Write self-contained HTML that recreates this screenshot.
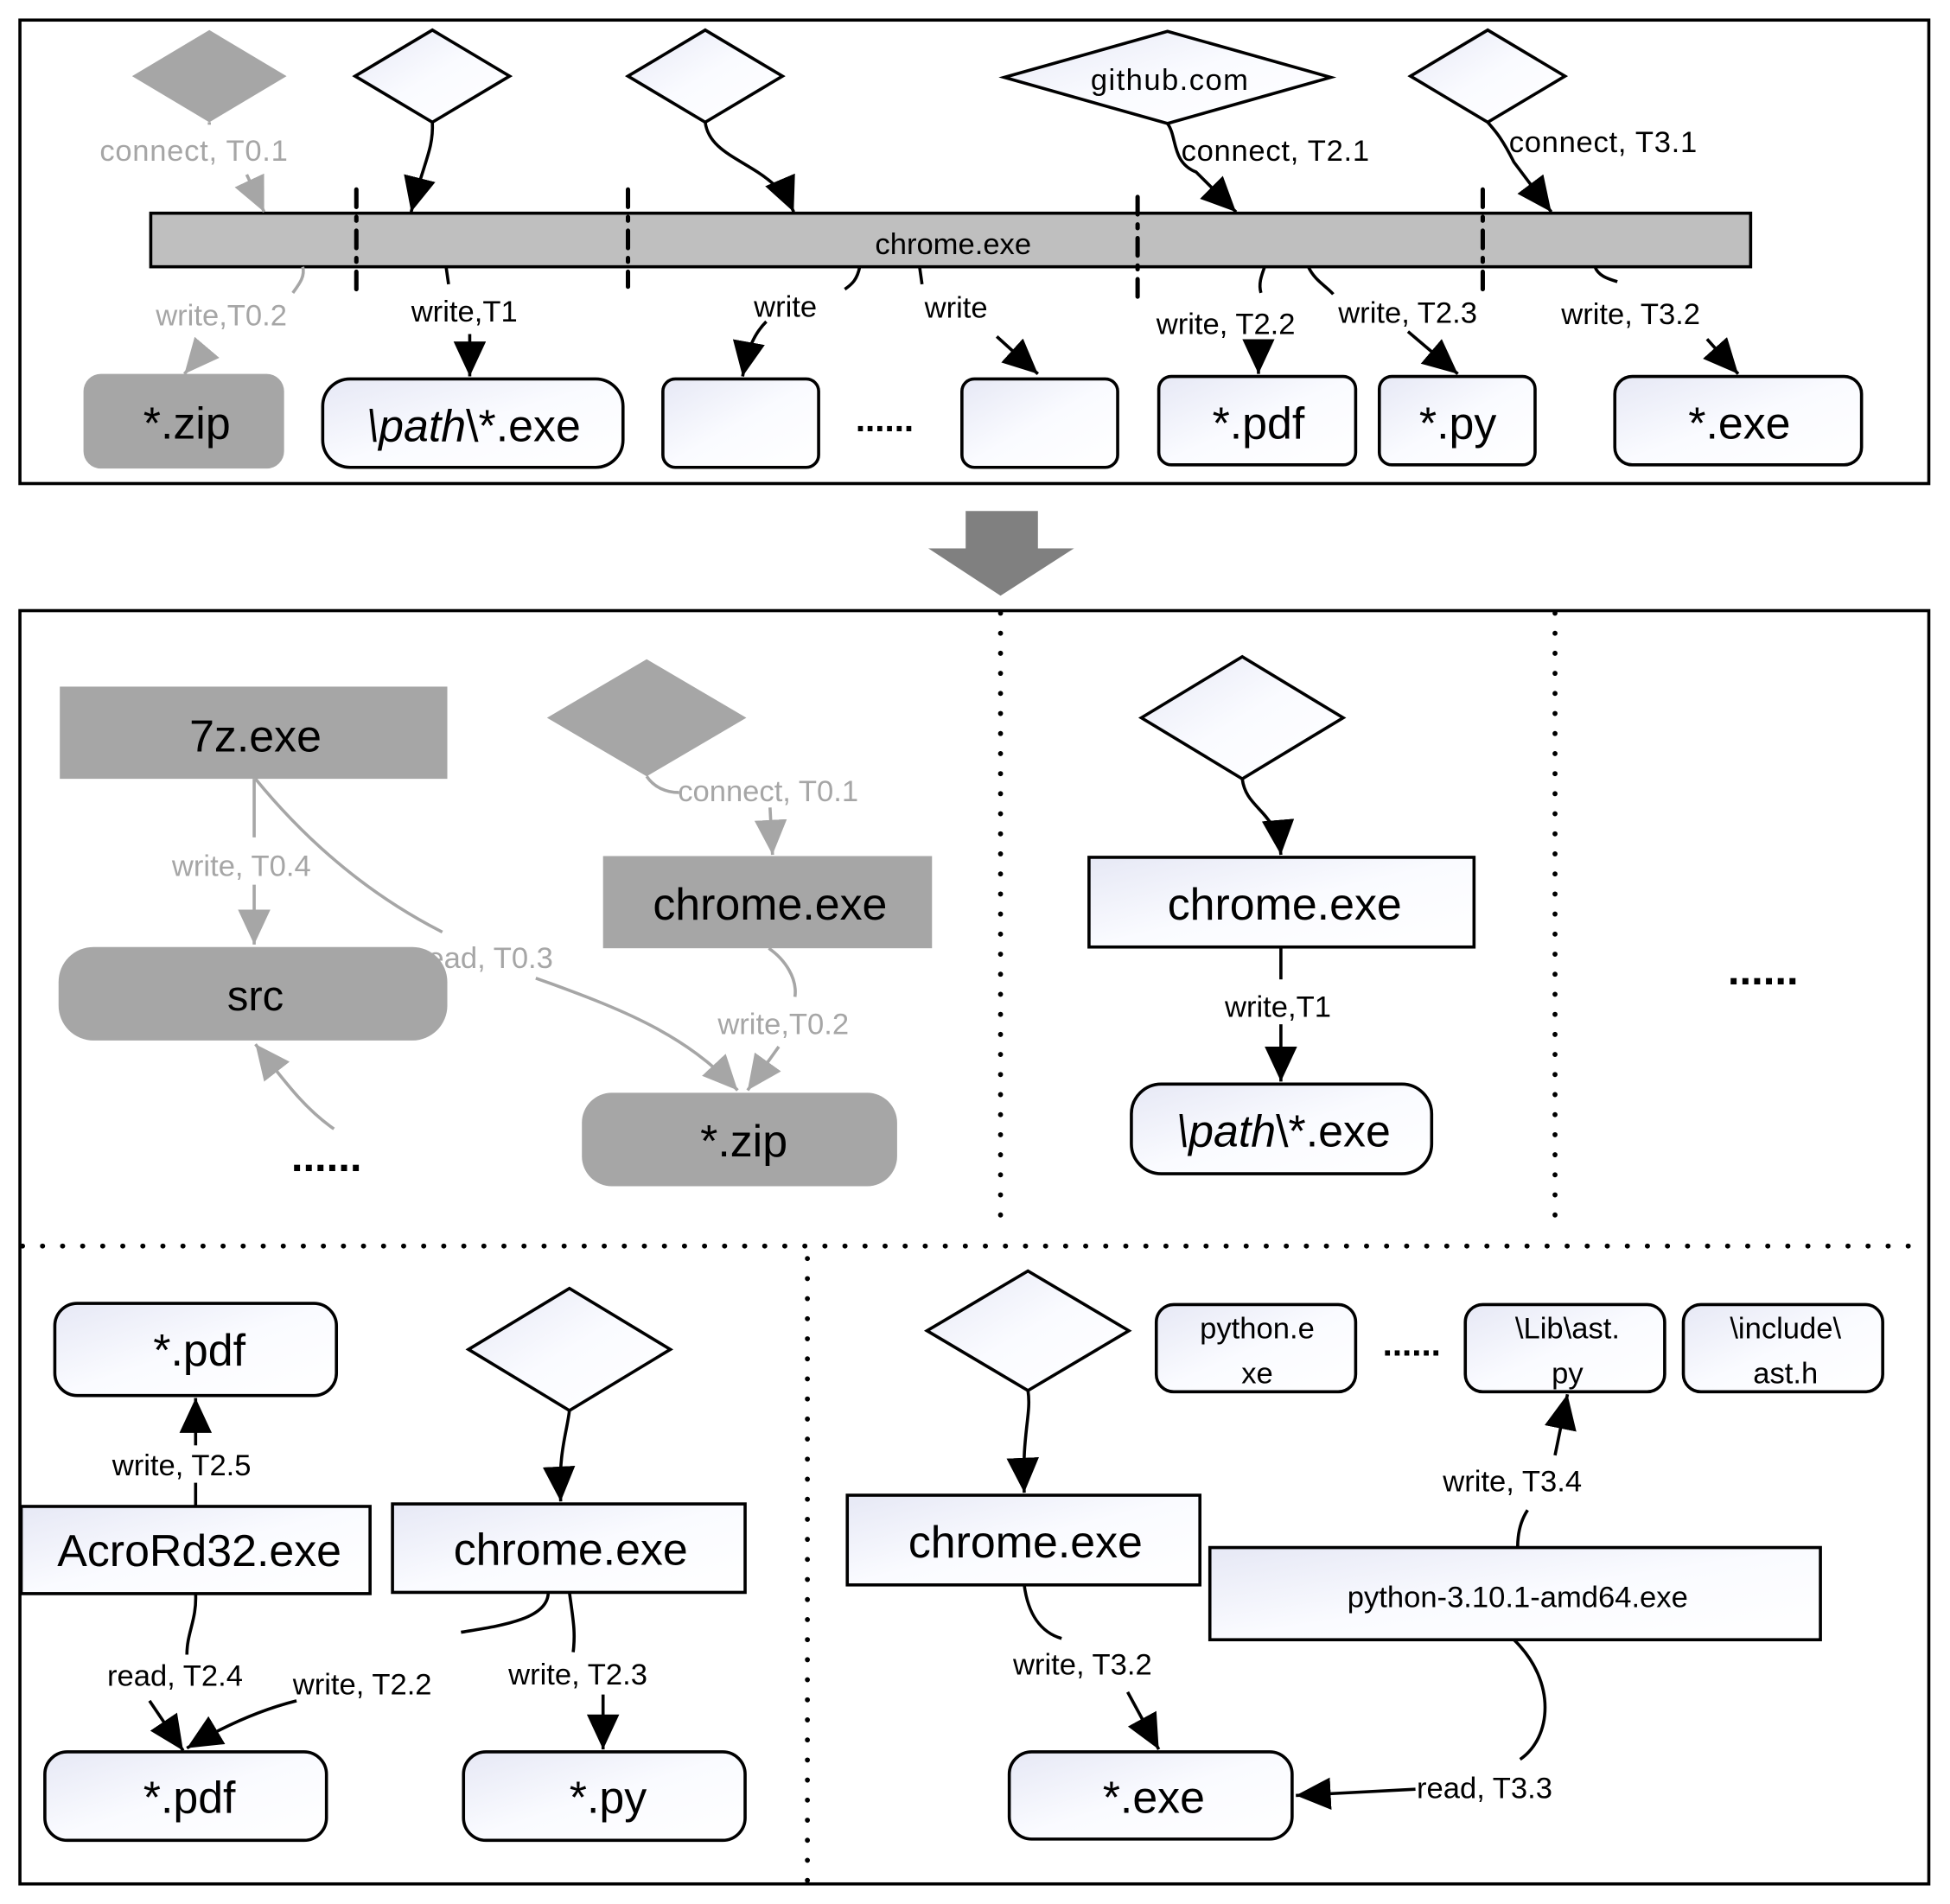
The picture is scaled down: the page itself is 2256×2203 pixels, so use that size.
<!DOCTYPE html>
<html><head><meta charset="utf-8"><style>
html,body{margin:0;padding:0;background:#fff}
svg{display:block}
text{font-family:"Liberation Sans",sans-serif;}
</style></head><body>
<svg width="2256" height="2203" viewBox="0 0 1565 1528" xmlns="http://www.w3.org/2000/svg">
<defs>
<linearGradient id="g" x1="0" y1="0" x2="1" y2="1"><stop offset="0" stop-color="#e6e8f5"/><stop offset="0.5" stop-color="#fafbff"/><stop offset="1" stop-color="#ffffff"/></linearGradient>
<marker id="a" markerUnits="userSpaceOnUse" markerWidth="30" markerHeight="30" refX="28" refY="13" orient="auto"><path d="M0,0 L28,13 L0,26 Z" fill="#000"/></marker>
<marker id="ag" markerUnits="userSpaceOnUse" markerWidth="30" markerHeight="30" refX="28" refY="13" orient="auto"><path d="M0,0 L28,13 L0,26 Z" fill="#a6a6a6"/></marker>
</defs>
<g fill="none" stroke="#000" stroke-width="2.5">
<rect x="16" y="16" width="1532" height="372"/>
<rect x="16" y="490" width="1532" height="1022"/>
</g>
<!-- TOP PANEL -->
<polygon points="106,61 168,24 230,61 168,98" fill="#a6a6a6"/>
<g fill="url(#g)" stroke="#000" stroke-width="2.5">
<polygon points="285,61 347,24 409,61 347,98"/>
<polygon points="504,61 566,24 628,61 566,98"/>
<polygon points="806,62 937,25 1068,62 937,99"/>
<polygon points="1132,61 1194,24 1256,61 1194,98"/>
</g>
<text x="939" y="72" font-size="24" text-anchor="middle" letter-spacing="1">github.com</text>
<rect x="121" y="171" width="1284" height="43" fill="#bfbfbf" stroke="#000" stroke-width="2.5"/>
<text x="765" y="204" font-size="24" text-anchor="middle">chrome.exe</text>
<g stroke="#000" stroke-width="3.5" stroke-dasharray="14 8 3 8" stroke-linecap="round">
<line x1="286" y1="152" x2="286" y2="234"/><line x1="504" y1="152" x2="504" y2="230"/>
<line x1="913" y1="158" x2="913" y2="238"/><line x1="1190" y1="152" x2="1190" y2="234"/>
</g>
<g fill="none" stroke-width="2.5">
<path d="M168,98 L168,100" stroke="#a6a6a6"/>
<path d="M198,140 L212,170" stroke="#a6a6a6" marker-end="url(#ag)"/>
<path d="M347,98 C348,120 340,130 330,170" stroke="#000" marker-end="url(#a)"/>
<path d="M566,98 C570,130 620,130 637,170" stroke="#000" marker-end="url(#a)"/>
<path d="M937,99 C945,110 940,130 960,138 L992,170" stroke="#000" marker-end="url(#a)"/>
<path d="M1194,98 C1200,105 1205,110 1215,130 L1245,170" stroke="#000" marker-end="url(#a)"/>
<path d="M243,214 C245,222 240,228 235,235" stroke="#a6a6a6"/>
<path d="M165,280 L148,300" stroke="#a6a6a6" marker-end="url(#ag)"/>
<path d="M358,214 L360,228" stroke="#000"/>
<path d="M377,268 L377,302" stroke="#000" marker-end="url(#a)"/>
<path d="M690,214 C688,224 684,228 678,232" stroke="#000"/>
<path d="M615,258 C605,268 600,280 596,302" stroke="#000" marker-end="url(#a)"/>
<path d="M738,214 L740,228" stroke="#000"/>
<path d="M800,270 L833,300" stroke="#000" marker-end="url(#a)"/>
<path d="M1015,214 C1012,222 1010,228 1012,235" stroke="#000"/>
<path d="M1010,274 L1010,300" stroke="#000" marker-end="url(#a)"/>
<path d="M1050,214 C1055,225 1065,230 1070,236" stroke="#000"/>
<path d="M1130,266 L1170,300" stroke="#000" marker-end="url(#a)"/>
<path d="M1280,214 C1283,222 1292,224 1298,226" stroke="#000"/>
<path d="M1370,272 L1395,300" stroke="#000" marker-end="url(#a)"/>
</g>
<g font-size="24">
<text x="80" y="129" fill="#a6a6a6" letter-spacing="0.5">connect, T0.1</text>
<text x="948" y="129" letter-spacing="0.5">connect, T2.1</text>
<text x="1211" y="122" letter-spacing="0.5">connect, T3.1</text>
<text x="125" y="261" fill="#a6a6a6">write,T0.2</text>
<text x="330" y="258">write,T1</text>
<text x="605" y="254">write</text>
<text x="742" y="255">write</text>
<text x="928" y="268">write, T2.2</text>
<text x="1074" y="259">write, T2.3</text>
<text x="1253" y="260">write, T3.2</text>
</g>
<rect x="67" y="300" width="161" height="76" rx="14" fill="#a6a6a6"/>
<g fill="url(#g)" stroke="#000" stroke-width="2.5">
<rect x="259" y="304" width="241" height="71" rx="22"/>
<rect x="532" y="304" width="125" height="71" rx="10"/>
<rect x="772" y="304" width="125" height="71" rx="10"/>
<rect x="930" y="302" width="158" height="71" rx="10"/>
<rect x="1107" y="302" width="125" height="71" rx="10"/>
<rect x="1296" y="302" width="198" height="71" rx="14"/>
</g>
<g font-size="36" text-anchor="middle">
<text x="150" y="352">*.zip</text>
<text x="380" y="354"><tspan font-style="italic">\path</tspan>\*.exe</text>
<text x="710" y="346" font-size="28" font-weight="bold">......</text>
<text x="1010" y="352">*.pdf</text>
<text x="1170" y="352">*.py</text>
<text x="1396" y="352">*.exe</text>
</g>
<!-- big arrow -->
<polygon points="775,410 833,410 833,440 862,440 803,478 745,440 775,440" fill="#808080"/>
<!-- dotted dividers -->
<g stroke="#000" stroke-width="4" stroke-dasharray="0.1 16" stroke-linecap="round">
<line x1="803" y1="492" x2="803" y2="990"/>
<line x1="1248" y1="492" x2="1248" y2="990"/>
<line x1="18" y1="1000" x2="1546" y2="1000"/>
<line x1="648" y1="1010" x2="648" y2="1510"/>
</g>
<!-- region 1 -->
<rect x="48" y="551" width="311" height="74" fill="#a6a6a6"/>
<text x="205" y="603" font-size="36" text-anchor="middle">7z.exe</text>
<polygon points="439,576 519,529 599,576 519,623" fill="#a6a6a6"/>
<rect x="484" y="687" width="264" height="74" fill="#a6a6a6"/>
<text x="618" y="738" font-size="36" text-anchor="middle">chrome.exe</text>
<g fill="none" stroke="#a6a6a6" stroke-width="2.5">
<path d="M519,623 C525,632 535,636 545,636"/>
<path d="M618,648 L620,686" marker-end="url(#ag)"/>
<path d="M204,625 L204,672"/>
<path d="M204,710 L204,758" marker-end="url(#ag)"/>
<path d="M205,625 C250,680 300,720 355,748"/>
<path d="M430,785 C500,810 550,830 592,875" marker-end="url(#ag)"/>
<path d="M617,761 C630,770 640,785 638,800"/>
<path d="M625,840 L600,875" marker-end="url(#ag)"/>
<path d="M268,906 C245,890 230,870 205,838" marker-end="url(#ag)"/>
</g>
<g font-size="24" fill="#a6a6a6">
<text x="544" y="643">connect, T0.1</text>
<text x="138" y="703">write, T0.4</text>
<text x="335" y="777">read, T0.3</text>
<text x="576" y="830">write,T0.2</text>
</g>
<rect x="47" y="760" width="312" height="75" rx="28" fill="#a6a6a6"/>
<text x="205" y="811" font-size="34" text-anchor="middle">src</text>
<rect x="467" y="877" width="253" height="75" rx="24" fill="#a6a6a6"/>
<text x="597" y="928" font-size="36" text-anchor="middle">*.zip</text>
<text x="262" y="940" font-size="34" font-weight="bold" text-anchor="middle">......</text>
<!-- region 2 -->
<polygon points="916,576 997,527 1078,576 997,625" fill="url(#g)" stroke="#000" stroke-width="2.5"/>
<path d="M997,625 C1000,650 1025,650 1028,686" fill="none" stroke="#000" stroke-width="2.5" marker-end="url(#a)"/>
<rect x="874" y="688" width="309" height="72" fill="url(#g)" stroke="#000" stroke-width="2.5"/>
<text x="1031" y="738" font-size="36" text-anchor="middle">chrome.exe</text>
<path d="M1028,760 L1028,786" stroke="#000" stroke-width="2.5"/>
<path d="M1028,822 L1028,868" stroke="#000" stroke-width="2.5" marker-end="url(#a)"/>
<text x="983" y="816" font-size="24">write,T1</text>
<rect x="908" y="870" width="241" height="72" rx="24" fill="url(#g)" stroke="#000" stroke-width="2.5"/>
<text x="1030" y="920" font-size="36" text-anchor="middle"><tspan font-style="italic">\path</tspan>\*.exe</text>
<text x="1415" y="790" font-size="34" font-weight="bold" text-anchor="middle">......</text>
<!-- region 3 -->
<g fill="url(#g)" stroke="#000" stroke-width="2.5">
<rect x="44" y="1046" width="226" height="74" rx="18"/>
<polygon points="376,1083 457,1034 538,1083 457,1132"/>
<rect x="17" y="1209" width="280" height="70"/>
<rect x="315" y="1207" width="283" height="71"/>
<rect x="36" y="1406" width="226" height="71" rx="18"/>
<rect x="372" y="1406" width="226" height="71" rx="18"/>
</g>
<g fill="none" stroke="#000" stroke-width="2.5">
<path d="M157,1208 L157,1190"/>
<path d="M157,1160 L157,1122" marker-end="url(#a)"/>
<path d="M457,1132 C455,1150 448,1165 450,1205" marker-end="url(#a)"/>
<path d="M157,1279 C158,1300 150,1310 150,1328"/>
<path d="M120,1365 L147,1405" marker-end="url(#a)"/>
<path d="M440,1278 C440,1300 400,1305 370,1310"/>
<path d="M238,1365 C210,1372 180,1385 150,1403" marker-end="url(#a)"/>
<path d="M457,1278 C460,1300 462,1310 460,1326"/>
<path d="M484,1360 L484,1404" marker-end="url(#a)"/>
</g>
<g font-size="24">
<text x="90" y="1184">write, T2.5</text>
<text x="86" y="1353">read, T2.4</text>
<text x="235" y="1360">write, T2.2</text>
<text x="408" y="1352">write, T2.3</text>
</g>
<g font-size="36" text-anchor="middle">
<text x="160" y="1096">*.pdf</text>
<text x="160" y="1257">AcroRd32.exe</text>
<text x="458" y="1256">chrome.exe</text>
<text x="152" y="1455">*.pdf</text>
<text x="488" y="1455">*.py</text>
</g>
<!-- region 4 -->
<g fill="url(#g)" stroke="#000" stroke-width="2.5">
<polygon points="744,1068 825,1020 906,1068 825,1116"/>
<rect x="928" y="1047" width="160" height="70" rx="14"/>
<rect x="1176" y="1047" width="160" height="70" rx="14"/>
<rect x="1351" y="1047" width="160" height="70" rx="14"/>
<rect x="680" y="1200" width="283" height="72"/>
<rect x="971" y="1242" width="490" height="74"/>
<rect x="810" y="1406" width="227" height="70" rx="18"/>
</g>
<g fill="none" stroke="#000" stroke-width="2.5">
<path d="M825,1116 C828,1135 820,1150 822,1198" marker-end="url(#a)"/>
<path d="M822,1272 C825,1295 835,1310 852,1315"/>
<path d="M905,1358 L930,1404" marker-end="url(#a)"/>
<path d="M1218,1242 C1218,1228 1222,1218 1226,1212"/>
<path d="M1248,1168 L1258,1119" marker-end="url(#a)"/>
<path d="M1215,1316 C1250,1350 1245,1395 1220,1412"/>
<path d="M1136,1436 L1040,1441" marker-end="url(#a)"/>
</g>
<g font-size="24" text-anchor="middle">
<text x="1009" y="1074">python.e</text><text x="1009" y="1110">xe</text>
<text x="1258" y="1074">\Lib\ast.</text><text x="1258" y="1110">py</text>
<text x="1433" y="1074">\include\</text><text x="1433" y="1110">ast.h</text>
<text x="1133" y="1088" font-size="28" font-weight="bold">......</text>
<text x="1218" y="1290">python-3.10.1-amd64.exe</text>
</g>
<g font-size="24">
<text x="1158" y="1197">write, T3.4</text>
<text x="813" y="1344">write, T3.2</text>
<text x="1137" y="1443">read, T3.3</text>
</g>
<g font-size="36" text-anchor="middle">
<text x="823" y="1250">chrome.exe</text>
<text x="926" y="1455">*.exe</text>
</g>
</svg>
</body></html>
